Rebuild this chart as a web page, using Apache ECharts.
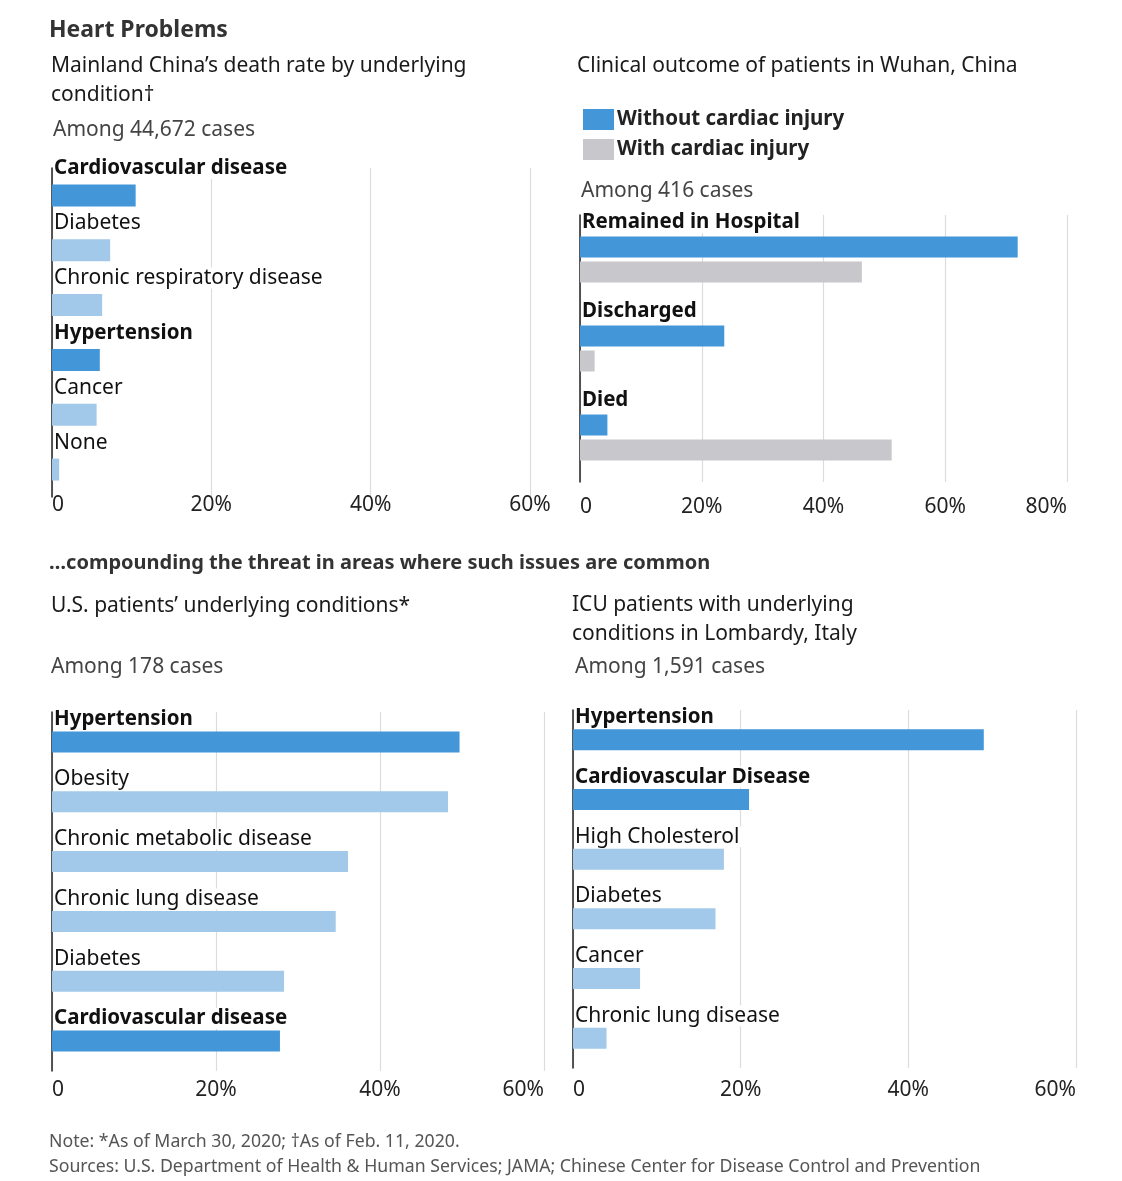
<!DOCTYPE html>
<html>
<head>
<meta charset="utf-8">
<script src="https://cdn.jsdelivr.net/npm/echarts@6/dist/echarts.min.js"></script>
<style>
html,body{margin:0;padding:0;background:#fff;}
#chart{width:1122px;height:1181px;}
</style>
</head>
<body>
<div id="chart"></div>
<script>
// ---------- data ----------
const chinaCategories = ['Cardiovascular disease','Diabetes','Chronic respiratory disease','Hypertension','Cancer','None'];
const chinaValues = [10.5, 7.3, 6.3, 6.0, 5.6, 0.9];
const chinaHighlight = [true, false, false, true, false, false];

const wuhanCategories = ['Remained in Hospital','Discharged','Died'];
const wuhanWithout = [71.9, 23.7, 4.5];
const wuhanWith = [46.3, 2.4, 51.2];
const wuhanSeriesNames = ['Without cardiac injury','With cardiac injury'];

const usCategories = ['Hypertension','Obesity','Chronic metabolic disease','Chronic lung disease','Diabetes','Cardiovascular disease'];
const usValues = [49.7, 48.3, 36.1, 34.6, 28.3, 27.8];
const usHighlight = [true, false, false, false, false, true];

const italyCategories = ['Hypertension','Cardiovascular Disease','High Cholesterol','Diabetes','Cancer','Chronic lung disease'];
const italyValues = [49, 21, 18, 17, 8, 4];
const italyHighlight = [true, true, false, false, false, false];

const ticks6 = [0, 20, 40, 60];
const ticks8 = [0, 20, 40, 60, 80];

// ---------- styles ----------
const FONT = 'Noto Sans';
const DARK = '#4396d8';
const LIGHT = '#a2c8ea';
const GRAY = '#c8c8cc';
const TXT = '#1a1a1a';

const chart = echarts.init(document.getElementById('chart'), null, {renderer:'canvas'});

function xAx(grid, ticks, margin, maxAlign){
  return {
    type:'value', gridIndex:grid, min:ticks[0], max:ticks[ticks.length-1], interval:ticks[1]-ticks[0],
    axisLine:{show:false}, axisTick:{show:false},
    splitLine:{show:true, lineStyle:{color:'#dcdcdc', width:1.2}},
    axisLabel:{fontFamily:FONT, fontSize:21, color:'#222', margin:margin,
      alignMinLabel:'left', alignMaxLabel:maxAlign,
      formatter:v => v===0 ? '0' : v+'%'}
  };
}
function yAx(grid, cats){
  return {
    type:'category', gridIndex:grid, data:cats, inverse:true,
    axisLine:{show:true, lineStyle:{color:'#222', width:1.5}},
    axisTick:{show:false}, axisLabel:{show:false}, splitLine:{show:false}
  };
}
function catLabel(bold, dy){
  return {
    show:true, position:[2, dy], align:'left', verticalAlign:'middle',
    formatter:'{b}', fontFamily:FONT, fontSize: bold ? 20.5 : 21, color:'#111',
    fontWeight: bold ? 'bold' : 'normal',
    backgroundColor:'#fff', padding:[0,4,0,0]
  };
}
function singleSeries(name, idx, cats, vals, hl, barW, dy){
  return {
    name:name, type:'bar', xAxisIndex:idx, yAxisIndex:idx, barWidth:barW,
    data: vals.map((v,i)=>({value:v, itemStyle:{color: hl[i]?DARK:LIGHT}, label:catLabel(hl[i], dy)})),
    label:{show:true}, silent:true, animation:false
  };
}

const titleBase = {padding:0, textStyle:{fontFamily:FONT, fontSize:21, fontWeight:'normal', color:TXT, lineHeight:29}};
function T(text, left, top, extra){
  const t = JSON.parse(JSON.stringify(titleBase));
  t.text = text; t.left = left; t.top = top;
  if (extra) Object.assign(t.textStyle, extra);
  return t;
}

const option = {
  backgroundColor:'#fff',
  animation:false,
  title:[
    T('Heart Problems', 49, 16, {fontSize:23, fontWeight:'bold', color:'#333'}),
    T('Mainland China\u2019s death rate by underlying\ncondition\u2020', 51, 52),
    T('Among 44,672 cases', 53, 116, {color:'#444'}),
    T('Clinical outcome of patients in Wuhan, China', 577, 52),
    T('Among 416 cases', 581, 177, {color:'#444'}),
    T('\u2026compounding the threat in areas where such issues are common', 49, 549, {fontSize:20, fontWeight:'bold', color:'#333'}),
    T('U.S. patients\u2019 underlying conditions*', 51, 592),
    T('Among 178 cases', 51, 653, {color:'#444'}),
    T('ICU patients with underlying\nconditions in Lombardy, Italy', 572, 591),
    T('Among 1,591 cases', 575, 653, {color:'#444'}),
    T('Note: *As of March 30, 2020; \u2020As of Feb. 11, 2020.\nSources: U.S. Department of Health & Human Services; JAMA; Chinese Center for Disease Control and Prevention', 49, 1129, {fontSize:17.7, color:'#555', lineHeight:25})
  ],
  legend:{
    left:578, top:104, orient:'vertical', itemWidth:31, itemHeight:21, itemGap:9, icon:'rect',
    data:wuhanSeriesNames, selectedMode:false,
    textStyle:{fontFamily:FONT, fontSize:20.5, fontWeight:'bold', color:'#222', padding:[0,0,0,-2]}
  },
  grid:[
    {left:52, top:168, width:478, height:329},
    {left:580, top:215, width:487, height:267},
    {left:52, top:712, width:492, height:359},
    {left:573, top:710, width:503, height:358}
  ],
  xAxis:[xAx(0, ticks6, -2, 'center'), xAx(1, ticks8, 15, 'right'), xAx(2, ticks6, 9, 'right'), xAx(3, ticks6, 12, 'right')],
  yAxis:[yAx(0, chinaCategories), yAx(1, wuhanCategories), yAx(2, usCategories), yAx(3, italyCategories)],
  series:[
    singleSeries('China', 0, chinaCategories, chinaValues, chinaHighlight, 22, -16),
    {
      name:wuhanSeriesNames[0], type:'bar', xAxisIndex:1, yAxisIndex:1, barWidth:21, barGap:'19%',
      itemStyle:{color:DARK}, data:wuhanWithout, label:catLabel(true, -14)
    },
    {
      name:wuhanSeriesNames[1], type:'bar', xAxisIndex:1, yAxisIndex:1, barWidth:21, barGap:'19%',
      itemStyle:{color:GRAY}, data:wuhanWith
    },
    singleSeries('US', 2, usCategories, usValues, usHighlight, 21, -12),
    singleSeries('Italy', 3, italyCategories, italyValues, italyHighlight, 21, -12)
  ]
};
chart.setOption(option);
</script>
</body>
</html>
